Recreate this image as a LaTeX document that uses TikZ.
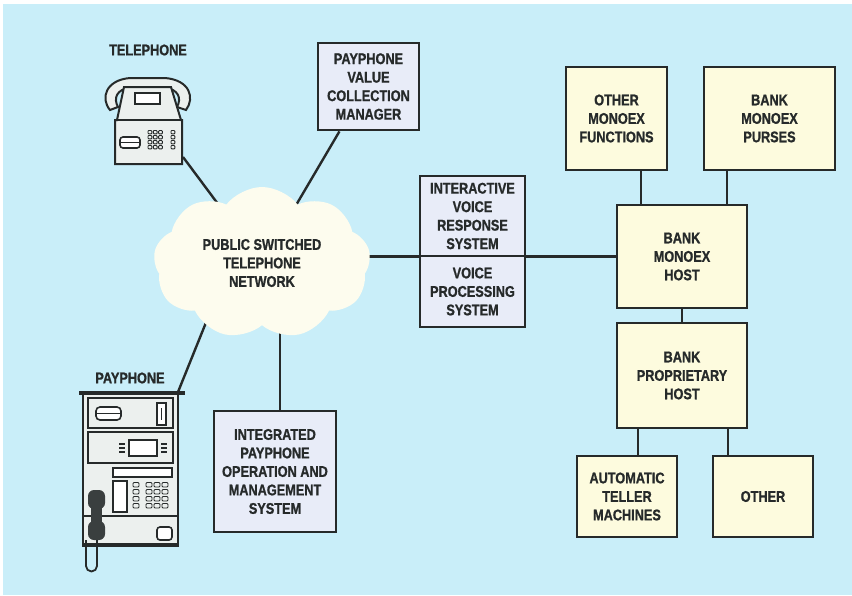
\documentclass[tikz,border=0pt]{standalone}
\usepackage{fontspec}
\setmainfont{Liberation Sans}
\newfontfamily\lblfont{Liberation Sans Bold}[FakeStretch=0.82, FakeBold=1.0]
\usetikzlibrary{shapes.symbols,calc}
\pgfdeclarelayer{backdrop}
\pgfdeclarelayer{wires}
\pgfsetlayers{backdrop,wires,main}

\definecolor{sky}{RGB}{201,238,249}
\definecolor{lav}{RGB}{232,236,248}
\definecolor{cream}{RGB}{253,251,222}
\definecolor{puff}{RGB}{253,252,238}
\definecolor{ink}{RGB}{38,42,42}
\definecolor{shell}{RGB}{236,240,238}
\definecolor{grip}{RGB}{58,63,63}

\tikzset{
  lbl/.style={font=\lblfont\fontsize{15.5}{18.5}\selectfont, text=ink, align=center},
  boxbase/.style={lbl, draw=ink, line width=2.8pt, inner sep=0pt},
  sysbox/.style={boxbase, fill=lav},
  bankbox/.style={boxbase, fill=cream},
  wire/.style={draw=ink, line width=2.4pt},
  art/.style={draw=ink, line width=1.6pt},
}

\begin{document}
\begin{tikzpicture}[x=1pt,y=-1pt]
\useasboundingbox (0,0) rectangle (852,595);

% ---------- nodes ----------
\node[cloud, cloud puffs=9, cloud puff arc=105, aspect=1.45, fill=puff,
      minimum width=217, minimum height=152, lbl, inner sep=0pt] (pstn) at (262,263)
      {PUBLIC SWITCHED\\TELEPHONE\\NETWORK};

\node[sysbox, minimum width=101, minimum height=87] (pvcm) at (368.5,86.5)
      {PAYPHONE\\VALUE\\COLLECTION\\MANAGER};
\node[sysbox, minimum width=105, minimum height=80] (ivrs) at (472.5,216)
      {INTERACTIVE\\VOICE\\RESPONSE\\SYSTEM};
\node[sysbox, minimum width=105, minimum height=71] (vps) at (472.5,291.5)
      {VOICE\\PROCESSING\\SYSTEM};
\node[sysbox, minimum width=122, minimum height=121] (ipoms) at (275,471.5)
      {INTEGRATED\\PAYPHONE\\OPERATION AND\\MANAGEMENT\\SYSTEM};

\node[bankbox, minimum width=101, minimum height=103] (omf) at (616.5,118.5)
      {OTHER\\MONOEX\\FUNCTIONS};
\node[bankbox, minimum width=131, minimum height=103] (purses) at (769.5,118.5)
      {BANK\\MONOEX\\PURSES};
\node[bankbox, minimum width=130, minimum height=103] (host) at (682,256.5)
      {BANK\\MONOEX\\HOST};
\node[bankbox, minimum width=130, minimum height=105] (prop) at (682,375.5)
      {BANK\\PROPRIETARY\\HOST};
\node[bankbox, minimum width=100, minimum height=81] (atm) at (627,496.5)
      {AUTOMATIC\\TELLER\\MACHINES};
\node[bankbox, minimum width=100, minimum height=81] (other) at (763,496.5)
      {OTHER};

\node[lbl] (tellbl) at (148,50) {TELEPHONE};
\node[lbl] (paylbl) at (130,378) {PAYPHONE};

% free ends of the terminal cords
\coordinate (telcord) at (183,157);
\coordinate (payjack) at (178,392);

% ---------- telephone ----------
% handset
\draw[art, line width=2pt, fill=shell]
  (110,110) .. controls (100,98) and (106,80) .. (130,78) -- (165,78)
  .. controls (190,80) and (195,98) .. (186,110) -- (177,107)
  .. controls (182,98) and (178,89) .. (165,88) -- (130,88)
  .. controls (117,89) and (113,98) .. (118,107) -- cycle;
% body
\draw[art, line width=2pt, fill=shell]
  (124,87) -- (171,87) -- (181,120) -- (182,120) -- (182,164) -- (115,164) -- (115,120) -- (117,120) -- cycle;
\draw[art, line width=1.6pt] (115,120) -- (182,120);
\draw[art, fill=white] (135,93) rectangle (160,104);
\draw[art, rounded corners=3, fill=white] (120,137) rectangle (140,148);
\draw[art, line width=1.2pt] (120,142.5) -- (140,142.5);
\foreach \r in {0,...,3} {
  \foreach \c in {0,1,2} {
    \draw[ink, line width=0.9pt, rounded corners=0.8] (148+5.3*\c,130.5+5*\r) rectangle ++(3.8,3.4);
  }
  \draw[ink, line width=0.9pt, rounded corners=0.8] (171,130.5+5*\r) rectangle ++(3.8,3.4);
}

% ---------- payphone ----------
\draw[art, line width=2.6pt, fill=shell] (83,393) rectangle (178,545);
\draw[ink, line width=4pt] (79,393) -- (185,393);
\draw[ink, line width=3.4pt] (82,545) -- (179,545);
\draw[art] (88,398) rectangle (173,428);
\draw[art, rounded corners=4, fill=white] (96,407) rectangle (121,420);
\draw[art, line width=1.2pt] (96,413.5) -- (121,413.5);
\draw[art, fill=white] (157,403) rectangle (166,425);
\draw[art, line width=1.4pt] (161.5,408) -- (161.5,420);
\draw[art] (88,432) rectangle (173,463);
\draw[art, fill=white] (129,440) rectangle (157,456);
\foreach \y in {444,448,452} {
  \draw[ink, line width=1.1pt] (119,\y) -- (125,\y);
  \draw[ink, line width=1.1pt] (161,\y) -- (167,\y);
}
\draw[art, fill=white] (113,468) rectangle (172,477);
\draw[art, fill=white] (113,481) rectangle (127,512);
\foreach \r in {0,...,3} {
  \draw[ink, line width=0.9pt, rounded corners=1] (133,482.5+7*\r) rectangle ++(6,4.5);
  \foreach \c in {0,1,2} {
    \draw[ink, line width=0.9pt, rounded corners=1] (146+8*\c,482.5+7*\r) rectangle ++(6,4.5);
  }
}
\draw[art] (83,516) -- (178,516);
\draw[art, rounded corners=3, fill=white] (157,527) rectangle (172,540);
% receiver
\fill[grip, rounded corners=6] (88,490) rectangle (105,509);
\fill[grip] (91,505) rectangle (102,525);
\fill[grip, rounded corners=6] (88,521) rectangle (105,540);
% cord loop
\draw[ink, line width=1.8pt] (86,540) -- (86,566) arc[start angle=180, end angle=0, radius=5.5] -- (97,540);

% ---------- connectors ----------
\begin{pgfonlayer}{wires}
  \draw[wire] (telcord) -- (pstn.center);
  \draw[wire] ($(pvcm.south west)!0.22!(pvcm.south east)$) -- (pstn.center);
  \draw[wire] (payjack) -- ($(pstn.center)+(-32,0)$);
  \draw[wire] ([xshift=5pt]ipoms.north) -- ([xshift=5pt]ipoms.north |- pstn.center);
  \draw[wire] (host.west) -- (pstn.center |- host.west);
  \draw[wire] ([xshift=-41pt]host.north) -- ([xshift=-41pt]host.north |- omf.south);
  \draw[wire] ([xshift=45pt]host.north) -- ([xshift=45pt]host.north |- purses.south);
  \draw[wire] (host.south) -- (prop.north);
  \draw[wire] ([xshift=-44pt]prop.south) -- ([xshift=-44pt]prop.south |- atm.north);
  \draw[wire] ([xshift=46pt]prop.south) -- ([xshift=46pt]prop.south |- other.north);
\end{pgfonlayer}

% ---------- backdrop ----------
\begin{pgfonlayer}{backdrop}
  \fill[white] (0,0) rectangle (852,595);
  \fill[sky] (3,4) rectangle (852,595);
\end{pgfonlayer}
\end{tikzpicture}
\end{document}
